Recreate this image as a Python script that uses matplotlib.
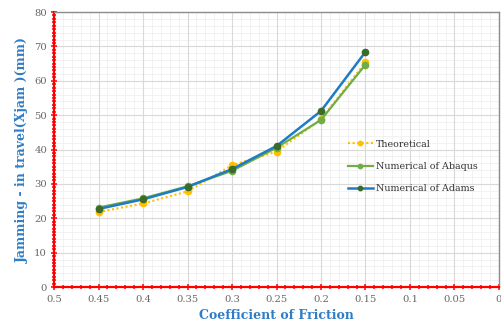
import matplotlib
matplotlib.use("Agg")
import matplotlib.pyplot as plt
from matplotlib.ticker import MultipleLocator, FixedLocator
import numpy as np

friction = [0.45, 0.4, 0.35, 0.3, 0.25, 0.2, 0.15]
theoretical = [21.8, 24.3, 27.8, 35.4, 39.4, 48.8, 65.4]
abaqus = [23.1, 25.8, 29.3, 33.8, 40.5, 48.6, 64.7]
adams = [22.7, 25.5, 29.1, 34.3, 41.0, 51.2, 68.4]

x_ticks = [0.5, 0.45, 0.4, 0.35, 0.3, 0.25, 0.2, 0.15, 0.1, 0.05, 0]
x_tick_labels = ["0.5", "0.45", "0.4", "0.35", "0.3", "0.25", "0.2", "0.15", "0.1", "0.05", "0"]
y_ticks = [0, 10, 20, 30, 40, 50, 60, 70, 80]

serif = ["DejaVu Serif"]
tick_col = "#666666"
label_col = "#2E7DC6"

fig = plt.figure(figsize=(5.02, 3.27), dpi=100)
ax = fig.add_axes([0.1076, 0.1223, 0.8864, 0.8410])

ax.set_xlim(0.5, 0)
ax.set_ylim(0, 80)

# minor grid
for v in np.arange(0, 0.5001, 0.01):
    ax.axvline(v, color="#F0F0F0", lw=0.6, zorder=0)
for v in np.arange(0, 80.001, 2):
    ax.axhline(v, color="#F0F0F0", lw=0.6, zorder=0)
for v in x_ticks:
    ax.axvline(v, color="#D9D9D9", lw=0.8, zorder=0.5)
for v in y_ticks:
    ax.axhline(v, color="#D9D9D9", lw=0.8, zorder=0.5)

ax.plot(friction, theoretical, color="#FFC000", lw=1.5, ls=(0, (1, 1.2)),
        marker="o", ms=4.5, mfc="#FFC000", mec="#FFC000", label="Theoretical", zorder=3)
ax.plot(friction, abaqus, color="#70AD47", lw=1.6,
        marker="o", ms=4.5, mfc="#70AD47", mec="#70AD47", label="Numerical of Abaqus", zorder=4)
ax.plot(friction, adams, color="#1F7CC4", lw=1.8,
        marker="o", ms=4.5, mfc="#3A6B2A", mec="#3A6B2A", label="Numerical of Adams", zorder=5)

ax.xaxis.set_major_locator(FixedLocator(x_ticks))
ax.set_xticklabels(x_tick_labels)
ax.yaxis.set_major_locator(FixedLocator(y_ticks))
ax.xaxis.set_minor_locator(MultipleLocator(0.01))
ax.yaxis.set_minor_locator(MultipleLocator(1))

for s in ["left", "bottom"]:
    ax.spines[s].set_color("#FF0000")
    ax.spines[s].set_linewidth(1.6)
for s in ["top", "right"]:
    ax.spines[s].set_color("#8C8C8C")
    ax.spines[s].set_linewidth(1.0)

ax.tick_params(axis="both", which="both", color="#FF0000", width=1.1, direction="inout")
ax.tick_params(axis="both", which="major", length=4, labelsize=7.2, labelcolor=tick_col)
ax.tick_params(axis="both", which="minor", length=2.6)
ax.tick_params(axis="x", which="major", pad=4)
ax.tick_params(axis="y", which="major", pad=3)
for lab in ax.get_xticklabels() + ax.get_yticklabels():
    lab.set_family(serif)

ax.set_xlabel("Coefficient of Friction", fontsize=9, fontweight="bold", color=label_col,
              family=serif, labelpad=3)
ax.set_ylabel("Jamming - in travel(Xjam )(mm)", fontsize=9, fontweight="bold", color=label_col,
              family=serif, labelpad=4)

leg = ax.legend(loc="center left", bbox_to_anchor=(0.642, 0.438), frameon=False,
                prop={"family": serif, "size": 6.8}, handlelength=2.6, labelspacing=1.42,
                handletextpad=0.3, markerscale=0.7)
for t in leg.get_texts():
    t.set_color("#333333")

fig.savefig("out.png", dpi=100)
